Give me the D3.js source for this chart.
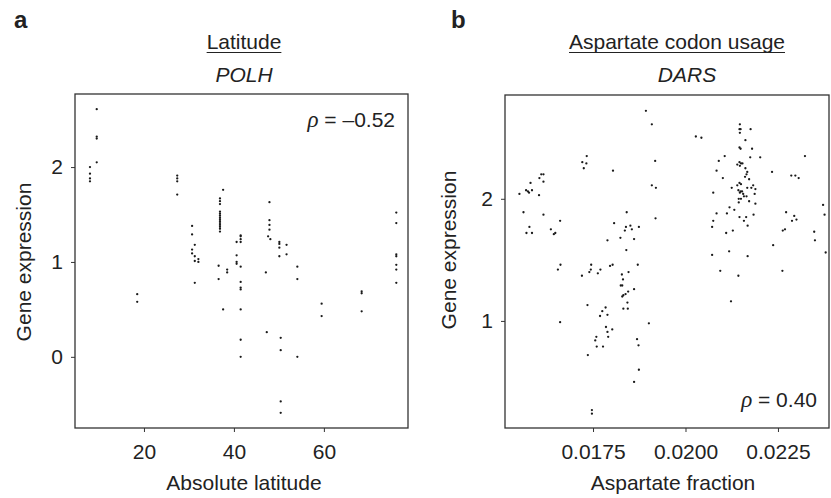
<!DOCTYPE html>
<html>
<head>
<meta charset="utf-8">
<script src="https://cdn.jsdelivr.net/npm/d3@7"></script>
<style>
  body { margin: 0; background: #fff; }
  svg { font-family: "Liberation Sans", Arial, sans-serif; fill: #222; }
  .tick text { font-size: 21px; fill: #222; }
  .tick line { stroke: #333; }
</style>
</head>
<body>
<svg width="831" height="498"></svg>
<script>
// panel a: POLH expression vs absolute latitude
var latA = [9.5, 9.5, 9.5, 9.5, 8, 8, 8, 8, 27.4, 27.4, 27.4, 27.4, 37.6,
  36.9, 36.9, 36.9, 36.9, 36.9, 36.9, 36.9, 36.9, 36.9, 36.9, 36.9, 36.9, 36.9, 36.9,
  30.7, 30.7, 31.3, 30.7, 30.7, 31.3, 31.3, 32.1, 32.1, 31.3,
  41.5, 41.5, 41.5, 40.6, 41.5, 40.6, 40.6, 40.6, 41.5, 38.5, 38.5, 36.6, 36.6, 41.5, 41.5, 41.5,
  37.6, 41.5, 41.5, 41.5, 18.5, 18.5,
  47.9, 47.9, 47.9, 47.9, 47.6, 48.1, 50.1, 50.1, 50.1, 50.1, 51.7, 51.7, 54.1, 54.1, 47.1,
  76.1, 76.1, 76.1, 76.1, 76.1, 76.1, 76.1,
  47.3, 50.4, 50.4, 54.1, 50.4, 50.4, 59.5, 59.5, 68.4, 68.4, 68.4]
var exprA = [2.61, 2.32, 2.30, 2.05, 2.00, 1.93, 1.88, 1.85, 1.91, 1.88, 1.85, 1.71, 1.76,
  1.67, 1.64, 1.61, 1.53, 1.51, 1.49, 1.47, 1.45, 1.43, 1.41, 1.39, 1.37, 1.35, 1.32,
  1.38, 1.29, 1.18, 1.13, 1.09, 1.06, 1.01, 1.03, 1.00, 0.78,
  1.28, 1.27, 1.24, 1.21, 1.21, 1.07, 1.00, 0.98, 0.95, 0.92, 0.89, 0.96, 0.82, 0.79, 0.73, 0.71,
  0.50, 0.50, 0.18, 0.00, 0.66, 0.58,
  1.63, 1.44, 1.39, 1.34, 1.27, 1.24, 1.21, 1.19, 1.15, 1.06, 1.18, 1.08, 0.95, 0.82, 0.89,
  1.52, 1.41, 1.08, 1.06, 0.97, 0.92, 0.78,
  0.26, 0.20, 0.07, 0.00, -0.47, -0.59, 0.56, 0.43, 0.69, 0.67, 0.48]

// panel b: DARS expression vs aspartate fraction
var aspB = [0.01893, 0.01909, 0.01733, 0.01721, 0.01732, 0.01725, 0.01918, 0.01804, 0.01610, 0.01616,
  0.01605, 0.01616, 0.01581, 0.01569, 0.01574, 0.01577, 0.01585, 0.01551, 0.01604, 0.01909,
  0.01920, 0.01562, 0.01616, 0.01578, 0.01570, 0.01585, 0.01661, 0.01636, 0.01648, 0.01644,
  0.01919, 0.01841, 0.01807, 0.01839, 0.01851, 0.01855, 0.01836, 0.01874, 0.01824, 0.01861,
  0.01789, 0.01840, 0.01662, 0.01655, 0.01745, 0.01744, 0.01740, 0.01720, 0.01770, 0.01763,
  0.01796, 0.01803, 0.01871, 0.01846, 0.01828, 0.01831, 0.01825, 0.01829, 0.01861, 0.01832,
  0.01838, 0.01845, 0.01829, 0.01843, 0.01832, 0.01844, 0.01735, 0.01784, 0.01775, 0.01769,
  0.01789, 0.01661, 0.01901, 0.01785, 0.01802, 0.01789, 0.01759, 0.01756, 0.01791, 0.01760,
  0.01777, 0.01869, 0.01873, 0.01736, 0.01874, 0.01861, 0.01747, 0.01747, 0.02123, 0.02028,
  0.02043, 0.02147, 0.02146, 0.02149, 0.02147, 0.02176, 0.02162, 0.02146, 0.02149, 0.02180,
  0.02106, 0.02175, 0.02202, 0.02090, 0.02323, 0.02146, 0.02150, 0.02140, 0.02147, 0.02154,
  0.02162, 0.02084, 0.02167, 0.02165, 0.02161, 0.02101, 0.02172, 0.02234, 0.02286, 0.02297,
  0.02306, 0.02146, 0.02150, 0.02140, 0.02143, 0.02147, 0.02153, 0.02125, 0.02167, 0.02178,
  0.02183, 0.02189, 0.02187, 0.02149, 0.02156, 0.02158, 0.02075, 0.02165, 0.02144, 0.02150,
  0.02144, 0.02172, 0.02189, 0.02119, 0.02132, 0.02084, 0.02112, 0.02184, 0.02146, 0.02164,
  0.02075, 0.02158, 0.02072, 0.02168, 0.02128, 0.02110, 0.02272, 0.02294, 0.02288, 0.02300,
  0.02269, 0.02263, 0.02372, 0.02376, 0.02348, 0.02350, 0.02379, 0.02237, 0.02118, 0.02072,
  0.02168, 0.02094, 0.02143, 0.02262]
var exprB = [2.72, 2.61, 2.35, 2.30, 2.29, 2.25, 2.31, 2.23, 2.20, 2.20,
  2.17, 2.14, 2.13, 2.07, 2.06, 2.05, 2.07, 2.04, 2.03, 2.11,
  2.09, 1.89, 1.87, 1.77, 1.72, 1.72, 1.82, 1.75, 1.72, 1.71,
  1.84, 1.89, 1.80, 1.77, 1.78, 1.75, 1.74, 1.77, 1.68, 1.67,
  1.66, 1.58, 1.46, 1.42, 1.46, 1.42, 1.40, 1.37, 1.42, 1.39,
  1.45, 1.46, 1.46, 1.40, 1.38, 1.34, 1.29, 1.29, 1.26, 1.21,
  1.22, 1.24, 1.20, 1.15, 1.10, 1.10, 1.13, 1.11, 1.08, 1.04,
  1.05, 0.99, 0.98, 0.95, 0.93, 0.91, 0.87, 0.84, 0.87, 0.79,
  0.79, 0.85, 0.80, 0.72, 0.60, 0.50, 0.27, 0.24, 1.16, 2.51,
  2.50, 2.61, 2.57, 2.57, 2.54, 2.57, 2.48, 2.42, 2.41, 2.41,
  2.35, 2.34, 2.34, 2.31, 2.35, 2.30, 2.29, 2.28, 2.27, 2.29,
  2.25, 2.23, 2.22, 2.20, 2.18, 2.17, 2.16, 2.22, 2.19, 2.19,
  2.17, 2.13, 2.12, 2.11, 2.07, 2.05, 2.06, 2.09, 2.09, 2.09,
  2.11, 2.08, 2.04, 2.06, 2.04, 2.02, 2.05, 2.02, 2.00, 2.00,
  1.97, 1.98, 1.96, 1.93, 1.91, 1.88, 1.88, 1.87, 1.85, 1.85,
  1.82, 1.82, 1.77, 1.78, 1.74, 1.72, 1.89, 1.86, 1.82, 1.83,
  1.75, 1.74, 1.95, 1.87, 1.73, 1.66, 1.56, 1.62, 1.57, 1.54,
  1.53, 1.41, 1.37, 1.41]

var ticksA_x = [20, 40, 60]
var ticksA_y = [0, 1, 2]
var ticksB_x = [0.0175, 0.0200, 0.0225]
var ticksB_y = [1, 2]

var svg = d3.select('svg')

function panel(opt){
    var x = d3.scaleLinear().domain(opt.xdom).range([opt.left, opt.right])
    var y = d3.scaleLinear().domain(opt.ydom).range([opt.bottom, opt.top])
    var g = svg.append('g')

    g.append('g')
        .attr('transform', 'translate(0,' + opt.bottom + ')')
        .call(d3.axisBottom(x).tickValues(opt.xt).tickSize(4).tickPadding(12).tickFormat(opt.xfmt))
        .call(a => a.select('.domain').remove())
    g.append('g')
        .attr('transform', 'translate(' + opt.left + ',0)')
        .call(d3.axisLeft(y).tickValues(opt.yt).tickSize(4).tickPadding(8).tickFormat(d3.format('d')))
        .call(a => a.select('.domain').remove())
    g.selectAll('g').attr('font-size', null).attr('font-family', null)

    g.append('rect')
        .attr('x', opt.left).attr('y', opt.top)
        .attr('width', opt.right - opt.left).attr('height', opt.bottom - opt.top)
        .attr('fill', 'none').attr('stroke', '#333').attr('stroke-width', 1.3)

    g.selectAll('circle')
        .data(opt.xs)
        .join('circle')
        .attr('cx', d => x(d))
        .attr('cy', (d,i) => y(opt.ys[i]))
        .attr('r', 1.15)
        .attr('fill', '#1a1a1a')

    // letter, titles
    g.append('text').attr('x', opt.letterX).attr('y', 28)
        .attr('font-size', 24).attr('font-weight', 'bold').text(opt.letter)
    var t1 = g.append('text').attr('x', opt.titleX).attr('y', 49)
        .attr('text-anchor', 'middle').attr('font-size', 21).text(opt.title)
    var bb = t1.node().getBBox()
    g.append('line').attr('x1', bb.x).attr('x2', bb.x + bb.width)
        .attr('y1', 52.5).attr('y2', 52.5).attr('stroke', '#222').attr('stroke-width', 1.2)
    g.append('text').attr('x', opt.geneX).attr('y', 82)
        .attr('text-anchor', 'middle').attr('font-size', 21).attr('font-style', 'italic').text(opt.gene)

    g.append('text').attr('x', opt.xlabX).attr('y', 490)
        .attr('text-anchor', 'middle').attr('font-size', 21).text(opt.xlab)
    g.append('text')
        .attr('transform', 'translate(' + opt.ylabX + ',' + opt.ylabY + ') rotate(-90)')
        .attr('text-anchor', 'middle').attr('font-size', 21).text('Gene expression')

    var r = g.append('text').attr('x', opt.rhoX).attr('y', opt.rhoY)
        .attr('text-anchor', 'end').attr('font-size', 21)
    r.append('tspan').attr('font-family', '"Liberation Serif", serif').attr('font-style', 'italic').attr('font-size', 23).text('ρ')
    r.append('tspan').text(' = ' + opt.rho)
}

panel({
    xdom: [4.67, 78.7], ydom: [-0.75, 2.77],
    left: 75, right: 408, top: 94, bottom: 428,
    xt: ticksA_x, yt: ticksA_y, xfmt: d3.format('d'),
    xs: latA, ys: exprA,
    letter: 'a', letterX: 14,
    title: 'Latitude', titleX: 244, gene: 'POLH', geneX: 244,
    xlab: 'Absolute latitude', xlabX: 244, ylabX: 31, ylabY: 262,
    rho: '–0.52', rhoX: 395, rhoY: 127
})

panel({
    xdom: [0.01512, 0.02388], ydom: [0.123, 2.85],
    left: 505, right: 829, top: 95, bottom: 428,
    xt: ticksB_x, yt: ticksB_y, xfmt: d3.format('.4f'),
    xs: aspB, ys: exprB,
    letter: 'b', letterX: 451,
    title: 'Aspartate codon usage', titleX: 677, gene: 'DARS', geneX: 687,
    xlab: 'Aspartate fraction', xlabX: 673, ylabX: 456, ylabY: 250,
    rho: '0.40', rhoX: 817, rhoY: 407
})
</script>
</body>
</html>
